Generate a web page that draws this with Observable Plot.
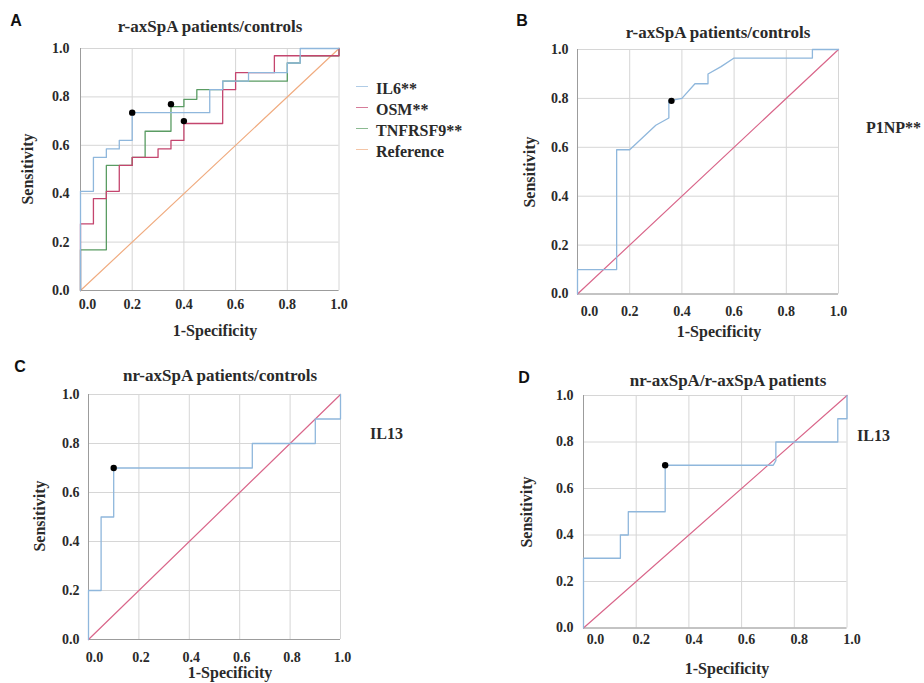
<!DOCTYPE html>
<html><head><meta charset="utf-8">
<script src="https://cdn.jsdelivr.net/npm/d3@7"></script>
<script src="https://cdn.jsdelivr.net/npm/@observablehq/plot@0.6"></script>
<style>
body{margin:0;background:#fff;}
#root{position:relative;width:924px;height:683px;overflow:hidden;font-family:"Liberation Serif","Times New Roman",serif;font-weight:bold;color:#2a2a2a;}
.t{position:absolute;white-space:nowrap;transform:translate(-50%,-50%);}
.l{position:absolute;white-space:nowrap;transform:translate(0,-50%);}
.letter{position:absolute;font-family:"Liberation Sans",Arial,sans-serif;font-weight:bold;font-size:16px;color:#111;transform:translate(-50%,-50%);}
.title{font-size:17px;}
.axl{font-size:16px;}
.rot{transform:translate(-50%,-50%) rotate(-90deg);}
.leg{font-size:16px;}
.sw{position:absolute;width:12px;height:0;border-top:1.3px solid;}
.panel{position:absolute;}
.panel svg text{font-family:"Liberation Serif","Times New Roman",serif !important;font-weight:bold;}
</style></head><body><div id="root"></div>
<script>
// ---- data ----
const tickValues = [0, 0.2, 0.4, 0.6, 0.8, 1.0];

// Panel A: r-axSpA patients/controls
const il6Fpr = [0,0,0.05,0.05,0.10,0.10,0.15,0.15,0.20,0.20,0.50,0.50,0.55,0.55,0.65,0.65,0.80,0.80,0.85,0.85,1.0];
const il6Tpr = [0,0.41,0.41,0.55,0.55,0.585,0.585,0.62,0.62,0.735,0.735,0.83,0.83,0.865,0.865,0.90,0.90,0.94,0.94,1.0,1.0];
const osmFpr = [0,0,0.05,0.05,0.10,0.10,0.15,0.15,0.20,0.20,0.30,0.30,0.35,0.35,0.40,0.40,0.55,0.55,0.60,0.60,0.75,0.75,1.0,1.0];
const osmTpr = [0,0.275,0.275,0.38,0.38,0.41,0.41,0.517,0.517,0.55,0.55,0.585,0.585,0.62,0.62,0.69,0.69,0.83,0.83,0.90,0.90,0.97,0.97,1.0];
const tnfFpr = [0,0,0.10,0.10,0.20,0.20,0.25,0.25,0.35,0.35,0.40,0.40,0.45,0.45,0.55,0.55,0.80,0.80,0.85,0.85,1.0,1.0];
const tnfTpr = [0,0.168,0.168,0.517,0.517,0.55,0.55,0.658,0.658,0.76,0.76,0.79,0.79,0.83,0.83,0.865,0.865,0.94,0.94,0.97,0.97,1.0];
const cutA = [[0.20,0.735],[0.35,0.77],[0.40,0.70]];

// Panel B: P1NP
const p1npFpr = [0,0,0.15,0.15,0.20,0.25,0.30,0.35,0.35,0.40,0.45,0.50,0.50,0.55,0.60,0.90,0.90,1.0];
const p1npTpr = [0,0.10,0.10,0.59,0.59,0.64,0.69,0.72,0.79,0.80,0.86,0.86,0.90,0.93,0.965,0.965,1.0,1.0];
const cutB = [[0.36,0.79]];

// Panel C: IL13 nr-axSpA/controls
const il13cFpr = [0,0,0.05,0.05,0.10,0.10,0.65,0.65,0.90,0.90,1.0,1.0];
const il13cTpr = [0,0.2,0.2,0.5,0.5,0.7,0.7,0.8,0.8,0.9,0.9,1.0];
const cutC = [[0.10,0.70]];

// Panel D: IL13 nr-axSpA/r-axSpA
const il13dFpr = [0,0,0.14,0.14,0.17,0.17,0.31,0.31,0.72,0.73,0.73,0.965,0.965,1.0,1.0];
const il13dTpr = [0,0.3,0.3,0.4,0.4,0.5,0.5,0.7,0.7,0.72,0.8,0.8,0.9,0.9,1.0];
const cutD = [[0.31,0.70]];

const refFpr = [0, 1];
const refTpr = [0, 1];

// ---- styles ----
const C = {il6:"#8fb7dc", osm:"#c4456e", tnf:"#5a9c63", refA:"#f0ac80", refP:"#d9668a", curve:"#8fb7dc"};
const SERIF = "Liberation Serif";

const root = document.getElementById("root");
const pts = (xs, ys) => xs.map((x, i) => ({x, y: ys[i]}));

function panel(g) {
  const ml = 60, mt = 10, mr = 14, mb = 36;
  const w = g.x1 - g.x0 + ml + mr, h = g.y0 - g.y1 + mt + mb;
  const fmt = d3.format(".1f");
  const tx = {tickSize: 0, tickFormat: fmt, label: null, fontSize: 14, fontWeight: "bold", fontFamily: SERIF};
  const marks = [
    Plot.gridX(tickValues, {stroke: "#d6d6d6", strokeOpacity: 1}),
    Plot.gridY(tickValues, {stroke: "#d6d6d6", strokeOpacity: 1}),
    Plot.ruleX([0], {stroke: "#9c9c9c"}),
    Plot.ruleY([0], {stroke: "#9c9c9c"}),
    Plot.line(pts(refFpr, refTpr), {x: "x", y: "y", stroke: g.refColor, strokeWidth: 1.2})
  ];
  for (const s of g.series) marks.push(Plot.line(pts(s.fpr, s.tpr), {x: "x", y: "y", stroke: s.color, strokeWidth: 1.3}));
  marks.push(Plot.dot(g.cuts, {x: d => d[0], y: d => d[1], r: 3.2, fill: "#000", stroke: "none"}));
  marks.push(Plot.axisY(tickValues, {...tx, tickPadding: g.yPad}));
  marks.push(Plot.axisX([0], {...tx, tickPadding: g.xPad, dx: g.zeroDx}));
  marks.push(Plot.axisX(tickValues.slice(1), {...tx, tickPadding: g.xPad, dx: g.restDx}));
  const svg = Plot.plot({
    width: w, height: h,
    marginLeft: ml, marginRight: mr, marginTop: mt, marginBottom: mb,
    x: {domain: [0, 1]}, y: {domain: [0, 1]},
    style: {fontFamily: "'Liberation Serif', 'Times New Roman', serif", fontWeight: "bold", fontSize: "14px", color: "#2a2a2a", background: "transparent", overflow: "visible"},
    marks
  });
  const d = document.createElement("div");
  d.className = "panel";
  d.style.left = (g.x0 - ml) + "px";
  d.style.top = (g.y1 - mt) + "px";
  d.appendChild(svg);
  root.appendChild(d);
}

panel({x0: 79.5, x1: 338, y1: 48, y0: 290, yPad: 11, xPad: 9, zeroDx: 7, restDx: 0, refColor: C.refA,
  series: [{fpr: tnfFpr, tpr: tnfTpr, color: C.tnf}, {fpr: osmFpr, tpr: osmTpr, color: C.osm}, {fpr: il6Fpr, tpr: il6Tpr, color: C.il6}],
  cuts: cutA});
panel({x0: 577, x1: 838, y1: 48.5, y0: 293, yPad: 9, xPad: 12, zeroDx: 12, restDx: 0, refColor: C.refP,
  series: [{fpr: p1npFpr, tpr: p1npTpr, color: C.curve}], cuts: cutB});
panel({x0: 87.5, x1: 339.5, y1: 393.5, y0: 638.5, yPad: 9, xPad: 13, zeroDx: 6, restDx: 2, refColor: C.refP,
  series: [{fpr: il13cFpr, tpr: il13cTpr, color: C.curve}], cuts: cutC});
panel({x0: 582.5, x1: 846, y1: 395, y0: 627.5, yPad: 10, xPad: 6, zeroDx: 12, restDx: 5, refColor: C.refP,
  series: [{fpr: il13dFpr, tpr: il13dTpr, color: C.curve}], cuts: cutD});

// ---- texts ----
const texts = [
  ["letter", "A", 16, 21], ["letter", "B", 522, 21], ["letter", "C", 20, 367], ["letter", "D", 524, 378],
  ["t title", "r-axSpA patients/controls", 210, 27], ["t title", "r-axSpA patients/controls", 718, 33],
  ["t title", "nr-axSpA patients/controls", 220, 376], ["t title", "nr-axSpA/r-axSpA patients", 728, 381],
  ["t axl", "1-Specificity", 215, 331], ["t axl", "1-Specificity", 719, 332],
  ["t axl", "1-Specificity", 230, 673], ["t axl", "1-Specificity", 727, 669],
  ["t axl rot", "Sensitivity", 28, 169], ["t axl rot", "Sensitivity", 530, 172],
  ["t axl rot", "Sensitivity", 40, 516], ["t axl rot", "Sensitivity", 527, 512],
  ["l leg", "P1NP**", 866, 128], ["l leg", "IL13", 370, 434], ["l leg", "IL13", 857, 436]
];
for (const [cls, txt, x, y] of texts) {
  const e = document.createElement("div");
  e.className = cls; e.textContent = txt;
  e.style.left = x + "px"; e.style.top = y + "px";
  root.appendChild(e);
}
// legend for panel A
const legNames = ["IL6**", "OSM**", "TNFRSF9**", "Reference"];
const legColors = [C.il6, C.osm, C.tnf, C.refA];
legNames.forEach((n, i) => {
  const y = 89 + i * 21;
  const sw = document.createElement("div");
  sw.className = "sw"; sw.style.left = "356px"; sw.style.top = (y - 3) + "px";
  sw.style.borderTopColor = legColors[i]; sw.style.opacity = 0.7;
  root.appendChild(sw);
  const e = document.createElement("div");
  e.className = "l leg"; e.textContent = n;
  e.style.left = "376px"; e.style.top = y + "px";
  root.appendChild(e);
});
</script></body></html>
